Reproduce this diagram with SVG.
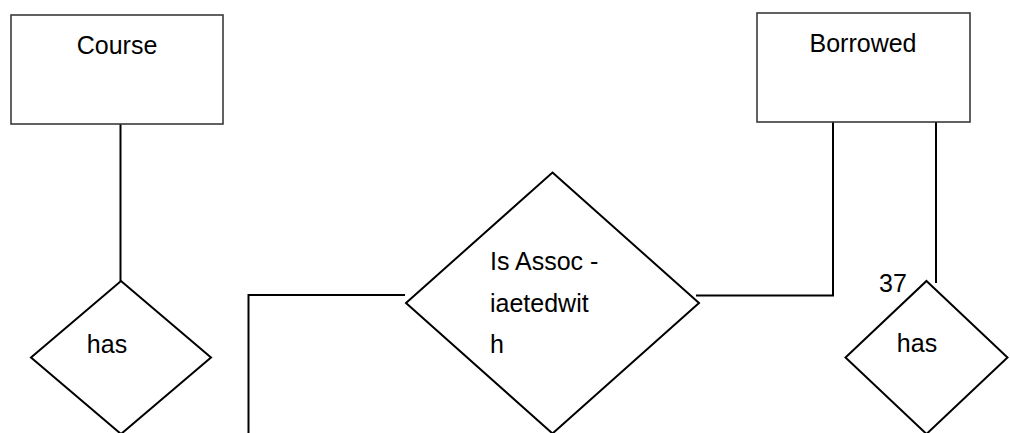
<svg xmlns="http://www.w3.org/2000/svg" width="1010" height="433" viewBox="0 0 1010 433">
  <style>
    .entity { fill: #fff; stroke: #3a3a3a; stroke-width: 1.6; }
    .rel { fill: #fff; stroke: #000; stroke-width: 2; }
    .link { fill: none; stroke: #000; stroke-width: 2; }
    .label { font-family: "Liberation Sans", Arial, sans-serif; font-size: 25px; fill: #000; }
  </style>
  <rect width="1010" height="433" fill="#fff"/>

  <!-- connectors -->
  <g id="connectors">
    <line class="link" x1="120.5" y1="124" x2="120.5" y2="281"/>
    <polyline class="link" points="248.5,433 248.5,295 405,295"/>
    <polyline class="link" points="696,295.5 833,295.5 833,122"/>
    <line class="link" x1="936" y1="122" x2="936" y2="283"/>
  </g>

  <!-- entity: Course -->
  <g id="course">
    <rect class="entity" x="11" y="15" width="212" height="109"/>
    <text class="label" x="117" y="54" text-anchor="middle">Course</text>
  </g>

  <!-- entity: Borrowed -->
  <g id="borrowed">
    <rect class="entity" x="757" y="13" width="213" height="109"/>
    <text class="label" x="863" y="52" text-anchor="middle">Borrowed</text>
  </g>

  <!-- relationship: has (left) -->
  <g id="has-left">
    <polygon class="rel" points="121,281 211,357.5 121,434 31,357.5"/>
    <text class="label" x="107" y="353" text-anchor="middle">has</text>
  </g>

  <!-- relationship: Is Associated with -->
  <g id="is-associated-with">
    <polygon class="rel" points="552.5,172.5 699,303 552.5,433.5 406,303"/>
    <text class="label" x="490" y="270">Is Assoc -</text>
    <text class="label" x="490" y="311.5">iaetedwit</text>
    <text class="label" x="490" y="352.5">h</text>
  </g>

  <!-- relationship: has (right) -->
  <g id="has-right">
    <polygon class="rel" points="926.5,281 1007.5,357.5 926.5,434 845.5,357.5"/>
    <text class="label" x="917" y="352" text-anchor="middle">has</text>
    <text class="label" x="879" y="291.5">37</text>
  </g>
</svg>
